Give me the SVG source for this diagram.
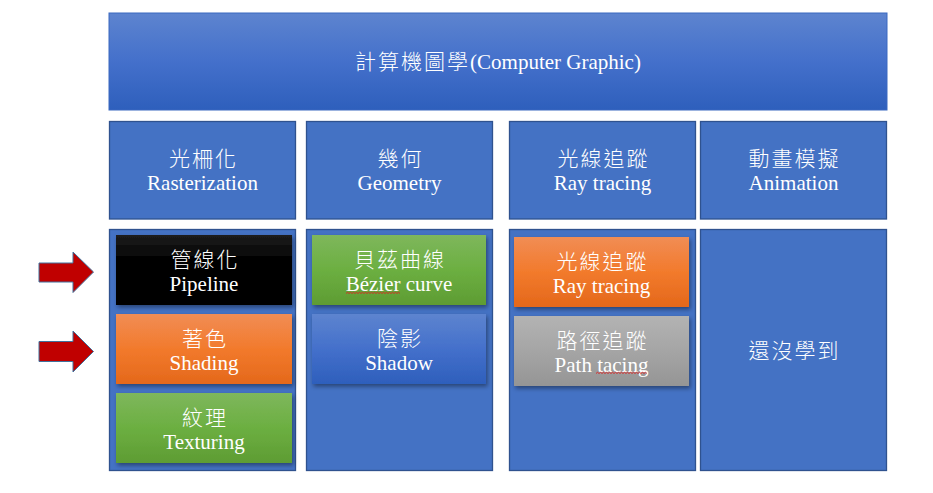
<svg xmlns="http://www.w3.org/2000/svg" width="933" height="493" viewBox="0 0 933 493">
<defs>
<linearGradient id="gBlue" x1="0" y1="0" x2="0" y2="1"><stop offset="0" stop-color="#5D84CF"/><stop offset="0.5" stop-color="#4470CB"/><stop offset="1" stop-color="#2E5FBC"/></linearGradient>
<linearGradient id="gBlack" x1="0" y1="0" x2="0" y2="1"><stop offset="0" stop-color="#1C1C1C"/><stop offset="0.35" stop-color="#030303"/><stop offset="1" stop-color="#000000"/></linearGradient>
<linearGradient id="gOrange" x1="0" y1="0" x2="0" y2="1"><stop offset="0" stop-color="#F18D55"/><stop offset="0.5" stop-color="#F27A2C"/><stop offset="1" stop-color="#E4681B"/></linearGradient>
<linearGradient id="gGreen" x1="0" y1="0" x2="0" y2="1"><stop offset="0" stop-color="#7EB75C"/><stop offset="0.5" stop-color="#6CAF41"/><stop offset="1" stop-color="#5E9C33"/></linearGradient>
<linearGradient id="gGray" x1="0" y1="0" x2="0" y2="1"><stop offset="0" stop-color="#B3B3B3"/><stop offset="0.5" stop-color="#A5A5A5"/><stop offset="1" stop-color="#959595"/></linearGradient>
<filter id="sh" x="-10%" y="-10%" width="125%" height="135%"><feDropShadow dx="1.5" dy="2.5" stdDeviation="2" flood-color="#000" flood-opacity="0.4"/></filter>
</defs>
<style>
.panel{fill:#4472C4;stroke:#2F528F;stroke-width:1.3}
.card{filter:url(#sh)}
text{font-family:"Liberation Serif","Noto Sans CJK TC",serif;font-size:21px;fill:#FFFFFF;text-anchor:middle}
.cjk{font-weight:300;letter-spacing:2px}
.arrow{fill:#C00000;stroke:#41719C;stroke-width:1}
.squig{fill:none;stroke:#E02020;stroke-width:0.9}
</style>

<g id="banner">
<rect x="109" y="13" width="778" height="97" fill="url(#gBlue)" stroke="#3A68C0" stroke-width="1"/>
<text x="498" y="69"><tspan class="cjk">計算機圖學</tspan>(Computer Graphic)</text>
</g>

<g id="header-rasterization">
<rect class="panel" x="109.5" y="121.5" width="186" height="97.5"/>
<text class="cjk" x="203.5" y="166">光柵化</text>
<text x="202.5" y="190">Rasterization</text>
</g>
<g id="header-geometry">
<rect class="panel" x="306.5" y="121.5" width="186" height="97.5"/>
<text class="cjk" x="400.5" y="166">幾何</text>
<text x="399.5" y="190">Geometry</text>
</g>
<g id="header-raytracing">
<rect class="panel" x="509.5" y="121.5" width="186" height="97.5"/>
<text class="cjk" x="603.5" y="166">光線追蹤</text>
<text x="602.5" y="190">Ray tracing</text>
</g>
<g id="header-animation">
<rect class="panel" x="700.5" y="121.5" width="186" height="97.5"/>
<text class="cjk" x="794.5" y="166">動畫模擬</text>
<text x="793.5" y="190">Animation</text>
</g>

<g id="col-rasterization">
<rect class="panel" x="109.5" y="229.5" width="186" height="241"/>
</g>
<g id="col-geometry">
<rect class="panel" x="306.5" y="229.5" width="186" height="241"/>
</g>
<g id="col-raytracing">
<rect class="panel" x="509.5" y="229.5" width="186" height="241"/>
</g>
<g id="col-animation">
<rect class="panel" x="700.5" y="229.5" width="186" height="241"/>
<text class="cjk" x="794.5" y="358">還沒學到</text>
</g>

<g id="pipeline">
<rect class="card" x="116" y="235" width="176" height="70" fill="url(#gBlack)"/>
<text class="cjk" x="205" y="267">管線化</text>
<text x="204" y="291">Pipeline</text>
</g>
<g id="shading">
<rect class="card" x="116" y="314" width="176" height="70" fill="url(#gOrange)"/>
<text class="cjk" x="205" y="346">著色</text>
<text x="204" y="370">Shading</text>
</g>
<g id="texturing">
<rect class="card" x="116" y="393" width="176" height="70" fill="url(#gGreen)"/>
<text class="cjk" x="205" y="425">紋理</text>
<text x="204" y="449">Texturing</text>
</g>

<g id="bezier">
<rect class="card" x="312" y="235" width="174" height="70" fill="url(#gGreen)"/>
<text class="cjk" x="400" y="267">貝茲曲線</text>
<text x="399" y="291">Bézier curve</text>
<path class="squig" d="M346 293.5 l1.5 -1.2 l1.5 1.2 l1.5 -1.2 l1.5 1.2 l1.5 -1.2 l1.5 1.2 l1.5 -1.2 l1.5 1.2 l1.5 -1.2 l1.5 1.2 l1.5 -1.2 l1.5 1.2 l1.5 -1.2 l1.5 1.2 l1.5 -1.2 l1.5 1.2 l1.5 -1.2 l1.5 1.2 l1.5 -1.2 l1.5 1.2 l1.5 -1.2 l1.5 1.2 l1.5 -1.2 l1.5 1.2 l1.5 -1.2 l1.5 1.2 l1.5 -1.2 l1.5 1.2 l1.5 -1.2 l1.5 1.2 l1.5 -1.2 l1.5 1.2 l1.5 -1.2 l1.5 1.2 l1.5 -1.2 l1.5 1.2"/>
</g>
<g id="shadow">
<rect class="card" x="312" y="314" width="174" height="70" fill="url(#gBlue)"/>
<text class="cjk" x="400" y="346">陰影</text>
<text x="399" y="370">Shadow</text>
</g>

<g id="raytracing">
<rect class="card" x="514" y="237" width="175" height="70" fill="url(#gOrange)"/>
<text class="cjk" x="602.5" y="269">光線追蹤</text>
<text x="601.5" y="293">Ray tracing</text>
</g>
<g id="pathtracing">
<rect class="card" x="514" y="316" width="175" height="70" fill="url(#gGray)"/>
<text class="cjk" x="602.5" y="348">路徑追蹤</text>
<text x="601.5" y="372">Path tacing</text>
<path class="squig" d="M596 373.5 l1.5 -1.2 l1.5 1.2 l1.5 -1.2 l1.5 1.2 l1.5 -1.2 l1.5 1.2 l1.5 -1.2 l1.5 1.2 l1.5 -1.2 l1.5 1.2 l1.5 -1.2 l1.5 1.2 l1.5 -1.2 l1.5 1.2 l1.5 -1.2 l1.5 1.2 l1.5 -1.2 l1.5 1.2 l1.5 -1.2 l1.5 1.2 l1.5 -1.2 l1.5 1.2 l1.5 -1.2 l1.5 1.2 l1.5 -1.2 l1.5 1.2 l1.5 -1.2 l1.5 1.2 l1.5 -1.2 l1.5 1.2 l1.5 -1.2 l1.5 1.2 l1.5 -1.2 l1.5 1.2"/>
</g>

<g id="connectors">
<path class="arrow" d="M39 263 H73 V252 L93.5 272 L73 292.5 V282 H39 Z"/>
<path class="arrow" d="M39 341.5 H73 V331 L93.5 351.5 L73 372 V361.5 H39 Z"/>
</g>
</svg>
